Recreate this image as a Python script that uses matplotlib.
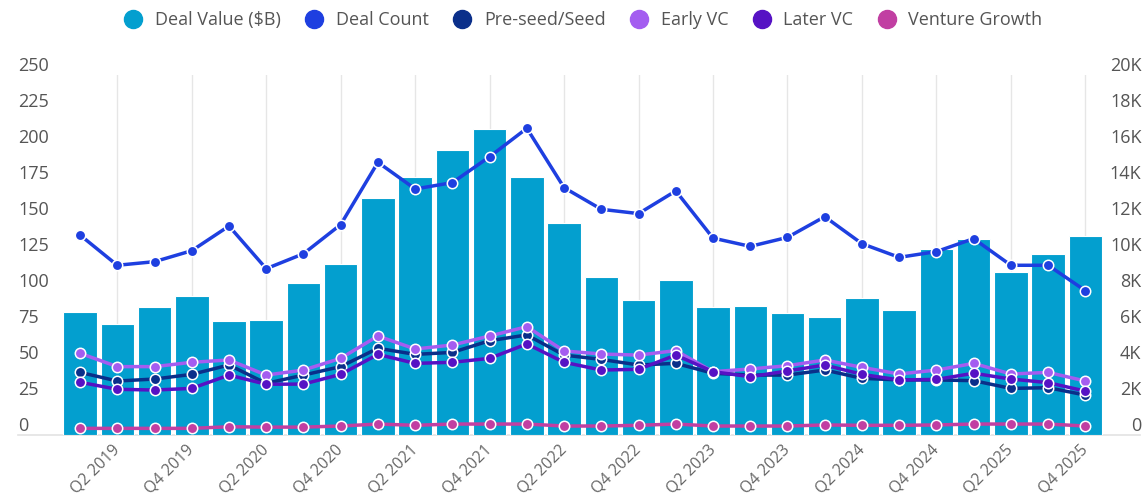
import matplotlib
matplotlib.use("Agg")
import matplotlib.pyplot as plt
from matplotlib.lines import Line2D
from matplotlib.ticker import FixedLocator

plt.rcParams["font.family"] = ["Open Sans", "DejaVu Sans"]

# quarters Q1 2019 .. Q4 2025
quarters = [f"Q{q} {y}" for y in range(2019, 2026) for q in range(1, 5)]

deal_value = [85.6, 77.1, 88.7, 96.5, 79.2, 79.9, 105.5, 119.0, 164.6, 179.4,
              197.7, 212.3, 179.0, 147.0, 109.5, 94.0, 107.4, 88.7, 89.4, 84.5,
              82.2, 95.4, 86.8, 129.0, 135.9, 113.4, 125.7, 138.2]
deal_count = [11110, 9430, 9630, 10240, 11610, 9240, 10070, 11690, 15150, 13670,
              14020, 15460, 17040, 13740, 12540, 12300, 13560, 10940, 10480, 10980,
              12130, 10630, 9870, 10190, 10910, 9430, 9430, 8020]
preseed = [3480, 3000, 3110, 3370, 3890, 2870, 3330, 3800, 4820, 4480, 4590, 5240,
           5560, 4440, 4200, 3890, 3980, 3430, 3330, 3330, 3610, 3150, 3060, 3060,
           3020, 2590, 2630, 2220]
early_vc = [4540, 3800, 3800, 4040, 4170, 3330, 3610, 4260, 5500, 4780, 5000, 5500,
            6020, 4670, 4500, 4440, 4690, 3520, 3670, 3850, 4170, 3760, 3390, 3610,
            3980, 3390, 3480, 3000]
later_vc = [2930, 2540, 2500, 2590, 3330, 2820, 2830, 3370, 4480, 3980, 4040, 4260,
            5060, 4040, 3610, 3650, 4440, 3520, 3240, 3560, 3890, 3370, 3060, 3090,
            3430, 3110, 2910, 2440]
venture_growth = [370, 370, 370, 370, 460, 440, 440, 500, 610, 540, 610, 610, 610,
                  500, 500, 540, 610, 500, 500, 500, 560, 540, 540, 560, 610, 610,
                  610, 500]

left_ticks = list(range(0, 251, 25))
right_ticks = list(range(0, 20001, 2000))
right_labels = ["0"] + [f"{t // 1000}K" for t in right_ticks[1:]]

BAR = "#039fcf"
series = [
    ("Deal Count", deal_count, "#1e3fe0"),
    ("Pre-seed/Seed", preseed, "#0a2f8a"),
    ("Early VC", early_vc, "#a45df0"),
    ("Later VC", later_vc, "#5612c4"),
    ("Venture Growth", venture_growth, "#c13fa2"),
]

fig = plt.figure(figsize=(11.42, 4.97), dpi=100)
ax = fig.add_axes([0.0538, 0.1247, 0.9129, 0.7244])
ax2 = ax.twinx()

x = list(range(len(quarters)))
ax.bar(x, deal_value, width=0.9, color=BAR, edgecolor="white", linewidth=0.8, zorder=2)
ax.set_xlim(-0.5, len(quarters) - 0.5)
ax.set_ylim(0, 250)
ax2.set_ylim(0, 20000)

for name, vals, col in series:
    ax2.plot(x, vals, color=col, lw=2.5, marker="o", ms=7.5, mfc=col,
             mec="white", mew=1.1, zorder=3)

# x axis: every other quarter, vertical grid
ax.set_xticks(x[1::2])
ax.set_xticklabels(quarters[1::2], rotation=45, ha="right", va="center",
                   rotation_mode="anchor", fontsize=11.5, color="#666666")
ax.tick_params(axis="x", length=0, pad=9)
ax.grid(axis="x", color="#e6e6e6", lw=1, zorder=0)
ax.set_axisbelow(True)

# y axes: labels sit a little above their value
ax.yaxis.set_major_locator(FixedLocator(left_ticks))
ax.tick_params(axis="y", length=0, pad=31, labelsize=13, labelcolor="#555555")
plt.setp(ax.get_yticklabels(), ha="left", va="bottom")
ax2.yaxis.set_major_locator(FixedLocator(right_ticks))
ax2.set_yticklabels(right_labels)
ax2.tick_params(axis="y", length=0, pad=27, labelsize=13, labelcolor="#555555")
plt.setp(ax2.get_yticklabels(), ha="right", va="bottom")

for a in (ax, ax2):
    for s in a.spines.values():
        s.set_visible(False)

ax.axhline(0, xmin=-0.042, xmax=1.035, color="#e3e3e3", lw=1.2, clip_on=False, zorder=1)

handles = [Line2D([], [], ls="none", marker="o", ms=13, color=BAR)]
handles += [Line2D([], [], ls="none", marker="o", ms=13, color=c) for _, _, c in series]
names = ["Deal Value ($B)"] + [n for n, _, _ in series]
fig.legend(handles, names, loc="upper center", bbox_to_anchor=(0.507, 1.01), ncol=6,
           frameon=False, fontsize=13, handletextpad=0.2, columnspacing=0.85,
           labelcolor="#555555")

fig.savefig("out.png", dpi=100)
